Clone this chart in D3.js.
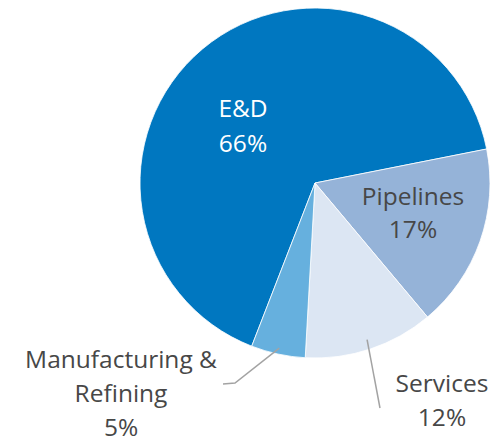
<!DOCTYPE html>
<html>
<head>
<meta charset="utf-8">
<script src="https://cdn.jsdelivr.net/npm/d3@7"></script>
<style>
  html, body { margin: 0; padding: 0; background: #ffffff; }
  svg { display: block; }
  text { font-family: "Open Sans", "Noto Sans", sans-serif; }
</style>
</head>
<body>
<svg id="chart" width="499" height="443"></svg>
<script>
// Sector split
const categories = ["E&D", "Pipelines", "Services", "Manufacturing & Refining"];
const shares = [66, 17, 12, 5];
const labelLines = [["E&D", "66%"], ["Pipelines", "17%"], ["Services", "12%"], ["Manufacturing &", "Refining", "5%"]];

const colors = ["#0077c0", "#95b3d8", "#dce6f3", "#66b0de"];
const textColors = ["#ffffff", "#474747", "#474747", "#474747"];

const width = 499, height = 443;
const cx = 315, cy = 183, radius = 175;

const svg = d3.select("#chart");
const g = svg.append("g").attr("transform", `translate(${cx},${cy})`);

const deg = Math.PI / 180;
const pie = d3.pie().sort(null).value(d => d.value)
  .startAngle(-158.8 * deg).endAngle(201.2 * deg);
const data = categories.map((c, i) => ({ name: c, value: shares[i], i }));
const arcs = pie(data);

const arc = d3.arc().innerRadius(0).outerRadius(radius);

g.selectAll("path.slice")
  .data(arcs)
  .enter().append("path")
  .attr("class", "slice")
  .attr("d", arc)
  .attr("fill", d => colors[d.data.i])
  .attr("stroke", "#ffffff")
  .attr("stroke-width", 0.8);

// Label anchor positions (first line baseline) relative to pie centre
const labelPos = [
  { x: -72, y: -66, lh: 35 },
  { x: 98, y: 22, lh: 33 },
  { x: 127, y: 209, lh: 34 },
  { x: -194, y: 185, lh: 34 }
];

// Leader lines for the small outer labels
const leaders = [
  null,
  null,
  { r0: radius - 10, pts: [[65, 225]] },
  { r0: radius - 6, pts: [[-80, 200], [-92, 201]] }
];

arcs.forEach(a => {
  const L = leaders[a.data.i];
  if (!L) return;
  const mid = (a.startAngle + a.endAngle) / 2;
  const start = [L.r0 * Math.sin(mid), -L.r0 * Math.cos(mid)];
  g.append("path")
    .attr("d", d3.line()([start, ...L.pts]))
    .attr("fill", "none")
    .attr("stroke", "#a3a3a3")
    .attr("stroke-width", 1.5);
});

arcs.forEach(a => {
  const i = a.data.i;
  const p = labelPos[i];
  const lines = labelLines[i];
  const t = g.append("text")
    .attr("text-anchor", "middle")
    .attr("font-size", 24.5)
    .attr("fill", textColors[i]);
  lines.forEach((ln, k) => {
    t.append("tspan")
      .attr("x", p.x)
      .attr("y", p.y + k * p.lh)
      .text(ln);
  });
});
</script>
</body>
</html>
